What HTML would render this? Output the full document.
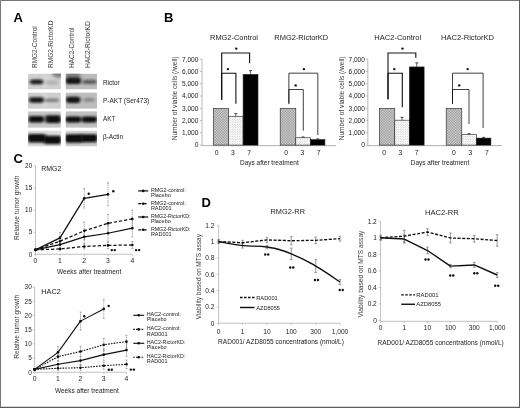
<!DOCTYPE html>
<html><head><meta charset="utf-8"><title>Figure</title>
<style>
html,body{margin:0;padding:0;background:#fff;}
body{width:520px;height:408px;overflow:hidden;font-family:"Liberation Sans", sans-serif;}
svg{display:block;font-family:"Liberation Sans", sans-serif;}
</style></head>
<body>
<svg width="520" height="408" viewBox="0 0 520 408">
<defs>
<filter id="bl" x="-30%" y="-80%" width="160%" height="260%"><feGaussianBlur stdDeviation="1.5 1.15"/></filter>
<filter id="soft" x="0" y="0" width="520" height="408" filterUnits="userSpaceOnUse"><feGaussianBlur stdDeviation="0.36"/></filter>
<filter id="bl3" x="-50%" y="-100%" width="200%" height="300%"><feGaussianBlur stdDeviation="1.1"/></filter>
<filter id="bl2" x="-50%" y="-100%" width="200%" height="300%"><feGaussianBlur stdDeviation="1.6"/></filter>
<pattern id="hatch" width="2.6" height="2.6" patternUnits="userSpaceOnUse"><rect width="2.6" height="2.6" fill="#dedede"/><rect width="1.3" height="1.3" fill="#8c8c8c"/><rect x="1.3" y="1.3" width="1.3" height="1.3" fill="#8c8c8c"/></pattern>
<pattern id="dots" width="2.4" height="2.4" patternUnits="userSpaceOnUse"><rect width="2.4" height="2.4" fill="#fdfdfd"/><circle cx="0.6" cy="0.6" r="0.38" fill="#8a8a8a"/><circle cx="1.8" cy="1.8" r="0.38" fill="#8a8a8a"/></pattern>
</defs>
<rect x="0" y="0" width="520" height="408" fill="#fff"/>
<g filter="url(#soft)">
<text x="13.60" y="22.40" font-size="13" text-anchor="start" font-weight="bold" fill="#000">A</text>
<text x="164.00" y="22.40" font-size="13" text-anchor="start" font-weight="bold" fill="#000">B</text>
<text x="13.60" y="163.40" font-size="13" text-anchor="start" font-weight="bold" fill="#000">C</text>
<text x="201.60" y="207.20" font-size="13" text-anchor="start" font-weight="bold" fill="#000">D</text>
<text x="36.60" y="68.00" font-size="6.48" text-anchor="start" font-weight="normal" fill="#3c3c3c" transform="rotate(-90 36.6 68)" textLength="41.75" lengthAdjust="spacingAndGlyphs">RMG2-Control</text>
<text x="53.20" y="68.00" font-size="6.58" text-anchor="start" font-weight="normal" fill="#3c3c3c" transform="rotate(-90 53.2 68)" textLength="47.5" lengthAdjust="spacingAndGlyphs">RMG2-RictorKD</text>
<text x="74.00" y="68.00" font-size="6.51" text-anchor="start" font-weight="normal" fill="#3c3c3c" transform="rotate(-90 74.0 68)" textLength="40.5" lengthAdjust="spacingAndGlyphs">HAC2-Control</text>
<text x="89.50" y="68.00" font-size="6.68" text-anchor="start" font-weight="normal" fill="#3c3c3c" transform="rotate(-90 89.5 68)" textLength="46.75" lengthAdjust="spacingAndGlyphs">HAC2-RictorKD</text>
<g clip-path="url(#c00)"><clipPath id="c00"><rect x="28" y="73.6" width="32.90" height="15.90"/></clipPath>
<rect x="28" y="73.6" width="32.90" height="15.90" fill="#d0d0d0"/>
<rect x="43" y="73.6" width="4" height="15.90" fill="#e4e4e4" opacity="0.45" filter="url(#bl2)"/>
<ellipse cx="59.5" cy="73.6" rx="7.5" ry="4.2" fill="#3a3a3a" opacity="0.55" filter="url(#bl2)"/>
<rect x="29.8" y="79.45" width="13.50" height="4.9" rx="2.40" fill="#0c0c0c" opacity="0.9" filter="url(#bl)"/>
<rect x="45.5" y="80.80" width="12.50" height="3.6" rx="1.80" fill="#0c0c0c" opacity="0.17" filter="url(#bl)"/>
</g>
<g clip-path="url(#c01)"><clipPath id="c01"><rect x="65.5" y="73.6" width="31.50" height="15.90"/></clipPath>
<rect x="65.5" y="73.6" width="31.50" height="15.90" fill="#bcbcbc"/>
<rect x="66" y="72.6" width="14" height="5" fill="#333" opacity="0.5" filter="url(#bl2)"/>
<rect x="65.6" y="77.50" width="15.40" height="6.6" rx="2.40" fill="#0c0c0c" opacity="0.97" filter="url(#bl)"/>
<rect x="82.5" y="79.70" width="14.30" height="4.4" rx="2.20" fill="#0c0c0c" opacity="0.55" filter="url(#bl)"/>
</g>
<text x="103.00" y="84.50" font-size="6.4" text-anchor="start" font-weight="normal" fill="#1c1c1c" textLength="16.7" lengthAdjust="spacingAndGlyphs">Rictor</text>
<g clip-path="url(#c10)"><clipPath id="c10"><rect x="28" y="92.4" width="32.90" height="16.40"/></clipPath>
<rect x="28" y="92.4" width="32.90" height="16.40" fill="#cecece"/>
<rect x="43" y="92.4" width="4" height="16.40" fill="#e4e4e4" opacity="0.45" filter="url(#bl2)"/>
<rect x="29.0" y="97.30" width="15.00" height="5.4" rx="2.40" fill="#0c0c0c" opacity="0.93" filter="url(#bl)"/>
<rect x="45" y="98.60" width="14.00" height="3.4" rx="1.70" fill="#0c0c0c" opacity="0.4" filter="url(#bl)"/>
</g>
<g clip-path="url(#c11)"><clipPath id="c11"><rect x="65.5" y="92.4" width="31.50" height="16.40"/></clipPath>
<rect x="65.5" y="92.4" width="31.50" height="16.40" fill="#bdbdbd"/>
<rect x="66" y="96.70" width="14.30" height="6.2" rx="2.40" fill="#0c0c0c" opacity="0.97" filter="url(#bl)"/>
<rect x="83.4" y="97.90" width="11.10" height="3.8" rx="1.90" fill="#0c0c0c" opacity="0.3" filter="url(#bl)"/>
</g>
<text x="103.00" y="103.30" font-size="6.51" text-anchor="start" font-weight="normal" fill="#1c1c1c" textLength="46.2" lengthAdjust="spacingAndGlyphs">P-AKT (Ser473)</text>
<g clip-path="url(#c20)"><clipPath id="c20"><rect x="28" y="111.2" width="32.90" height="16.60"/></clipPath>
<rect x="28" y="111.2" width="32.90" height="16.60" fill="#c6c6c6"/>
<rect x="28.4" y="116.10" width="15.80" height="6.4" rx="2.40" fill="#0c0c0c" opacity="0.98" filter="url(#bl)"/>
<rect x="45.2" y="115.30" width="15.80" height="7.8" rx="2.40" fill="#0c0c0c" opacity="0.98" filter="url(#bl)"/>
</g>
<g clip-path="url(#c21)"><clipPath id="c21"><rect x="65.5" y="111.2" width="31.50" height="16.60"/></clipPath>
<rect x="65.5" y="111.2" width="31.50" height="16.60" fill="#c0c0c0"/>
<rect x="65.2" y="116.40" width="16.20" height="6.0" rx="2.40" fill="#0c0c0c" opacity="0.98" filter="url(#bl)"/>
<rect x="81.4" y="116.60" width="15.80" height="5.8" rx="2.40" fill="#0c0c0c" opacity="0.98" filter="url(#bl)"/>
</g>
<text x="103.00" y="120.70" font-size="6.38" text-anchor="start" font-weight="normal" fill="#1c1c1c" textLength="12.4" lengthAdjust="spacingAndGlyphs">AKT</text>
<g clip-path="url(#c30)"><clipPath id="c30"><rect x="28" y="130.5" width="32.90" height="16.10"/></clipPath>
<rect x="28" y="130.5" width="32.90" height="16.10" fill="#d6d6d6"/>
<rect x="28" y="130.5" width="32.90" height="3" fill="#e6e6e6" opacity="0.6" filter="url(#bl2)"/>
<rect x="27.5" y="134.10" width="18.50" height="8.4" rx="2.40" fill="#0c0c0c" opacity="1.0" filter="url(#bl)"/>
<rect x="43.5" y="135.70" width="18.00" height="8.2" rx="2.40" fill="#0c0c0c" opacity="1.0" filter="url(#bl)"/>
</g>
<g clip-path="url(#c31)"><clipPath id="c31"><rect x="65.5" y="130.5" width="31.50" height="16.10"/></clipPath>
<rect x="65.5" y="130.5" width="31.50" height="16.10" fill="#cacaca"/>
<rect x="65.5" y="130.5" width="31.50" height="3" fill="#e6e6e6" opacity="0.6" filter="url(#bl2)"/>
<rect x="65.0" y="134.30" width="18.00" height="8.4" rx="2.40" fill="#0c0c0c" opacity="1.0" filter="url(#bl)"/>
<rect x="80.3" y="134.30" width="17.20" height="8.0" rx="2.40" fill="#0c0c0c" opacity="1.0" filter="url(#bl)"/>
</g>
<text x="103.00" y="138.70" font-size="6.42" text-anchor="start" font-weight="normal" fill="#1c1c1c" textLength="20.1" lengthAdjust="spacingAndGlyphs">β-Actin</text>
<line x1="202.00" y1="58.80" x2="202.00" y2="145.10" stroke="#a8a8a8" stroke-width="0.8" stroke-linecap="butt"/>
<line x1="201.60" y1="145.65" x2="336.20" y2="145.65" stroke="#9a9a9a" stroke-width="0.8" stroke-linecap="butt"/>
<line x1="200.00" y1="145.10" x2="202.00" y2="145.10" stroke="#a8a8a8" stroke-width="0.7" stroke-linecap="butt"/>
<text x="194.70" y="147.40" font-size="6.65" text-anchor="start" font-weight="normal" fill="#1c1c1c" textLength="3.7" lengthAdjust="spacingAndGlyphs">0</text>
<line x1="200.00" y1="132.83" x2="202.00" y2="132.83" stroke="#a8a8a8" stroke-width="0.7" stroke-linecap="butt"/>
<text x="182.00" y="135.13" font-size="6.55" text-anchor="start" font-weight="normal" fill="#1c1c1c" textLength="16.4" lengthAdjust="spacingAndGlyphs">1,000</text>
<line x1="200.00" y1="120.56" x2="202.00" y2="120.56" stroke="#a8a8a8" stroke-width="0.7" stroke-linecap="butt"/>
<text x="182.00" y="122.86" font-size="6.55" text-anchor="start" font-weight="normal" fill="#1c1c1c" textLength="16.4" lengthAdjust="spacingAndGlyphs">2,000</text>
<line x1="200.00" y1="108.29" x2="202.00" y2="108.29" stroke="#a8a8a8" stroke-width="0.7" stroke-linecap="butt"/>
<text x="182.00" y="110.59" font-size="6.55" text-anchor="start" font-weight="normal" fill="#1c1c1c" textLength="16.4" lengthAdjust="spacingAndGlyphs">3,000</text>
<line x1="200.00" y1="96.02" x2="202.00" y2="96.02" stroke="#a8a8a8" stroke-width="0.7" stroke-linecap="butt"/>
<text x="182.00" y="98.32" font-size="6.55" text-anchor="start" font-weight="normal" fill="#1c1c1c" textLength="16.4" lengthAdjust="spacingAndGlyphs">4,000</text>
<line x1="200.00" y1="83.75" x2="202.00" y2="83.75" stroke="#a8a8a8" stroke-width="0.7" stroke-linecap="butt"/>
<text x="182.00" y="86.05" font-size="6.55" text-anchor="start" font-weight="normal" fill="#1c1c1c" textLength="16.4" lengthAdjust="spacingAndGlyphs">5,000</text>
<line x1="200.00" y1="71.48" x2="202.00" y2="71.48" stroke="#a8a8a8" stroke-width="0.7" stroke-linecap="butt"/>
<text x="182.00" y="73.78" font-size="6.55" text-anchor="start" font-weight="normal" fill="#1c1c1c" textLength="16.4" lengthAdjust="spacingAndGlyphs">6,000</text>
<line x1="200.00" y1="59.21" x2="202.00" y2="59.21" stroke="#a8a8a8" stroke-width="0.7" stroke-linecap="butt"/>
<text x="182.00" y="61.51" font-size="6.55" text-anchor="start" font-weight="normal" fill="#1c1c1c" textLength="16.4" lengthAdjust="spacingAndGlyphs">7,000</text>
<text x="135.30" y="98.40" font-size="6.56" text-anchor="start" font-weight="normal" fill="#3c3c3c" transform="rotate(-90 177.2 98.4)" textLength="83.8" lengthAdjust="spacingAndGlyphs">Number of viable cells (/well)</text>
<text x="210.00" y="40.10" font-size="7.45" text-anchor="start" font-weight="normal" fill="#1c1c1c" textLength="48" lengthAdjust="spacingAndGlyphs">RMG2-Control</text>
<rect x="213.3" y="108.29" width="15.20" height="36.81" fill="url(#hatch)" stroke="#222" stroke-width="0.6"/>
<rect x="228.5" y="116.27" width="14.60" height="28.83" fill="url(#dots)" stroke="#222" stroke-width="0.6"/>
<line x1="235.80" y1="116.27" x2="235.80" y2="113.57" stroke="#222" stroke-width="0.7" stroke-linecap="butt"/>
<line x1="234.30" y1="113.57" x2="237.30" y2="113.57" stroke="#222" stroke-width="0.8" stroke-linecap="butt"/>
<rect x="243.1" y="74.42" width="14.90" height="70.68" fill="#000" stroke="#222" stroke-width="0.6"/>
<line x1="250.55" y1="74.42" x2="250.55" y2="70.62" stroke="#222" stroke-width="0.7" stroke-linecap="butt"/>
<line x1="249.05" y1="70.62" x2="252.05" y2="70.62" stroke="#222" stroke-width="0.8" stroke-linecap="butt"/>
<text x="216.75" y="155.20" font-size="6.8" text-anchor="middle" font-weight="normal" fill="#1c1c1c">0</text>
<text x="233.00" y="155.20" font-size="6.8" text-anchor="middle" font-weight="normal" fill="#1c1c1c">3</text>
<text x="249.25" y="155.20" font-size="6.8" text-anchor="middle" font-weight="normal" fill="#1c1c1c">7</text>
<path d="M221.7 99.7 V53.0 H249.6 V63.2" fill="none" stroke="#111" stroke-width="1.1"/>
<circle cx="236.2" cy="48.6" r="1.2" fill="#111"/>
<path d="M221.7 99.7 V73.2 H235.9 V103.8" fill="none" stroke="#111" stroke-width="1.1"/>
<circle cx="227.9" cy="69.1" r="1.2" fill="#111"/>
<text x="274.25" y="40.10" font-size="7.48" text-anchor="start" font-weight="normal" fill="#1c1c1c" textLength="54" lengthAdjust="spacingAndGlyphs">RMG2-RictorKD</text>
<rect x="280.2" y="108.29" width="15.60" height="36.81" fill="url(#hatch)" stroke="#222" stroke-width="0.6"/>
<rect x="295.8" y="137.74" width="14.60" height="7.36" fill="url(#dots)" stroke="#222" stroke-width="0.6"/>
<line x1="303.10" y1="137.74" x2="303.10" y2="136.94" stroke="#222" stroke-width="0.7" stroke-linecap="butt"/>
<line x1="301.60" y1="136.94" x2="304.60" y2="136.94" stroke="#222" stroke-width="0.8" stroke-linecap="butt"/>
<rect x="310.4" y="139.64" width="14.50" height="5.46" fill="#000" stroke="#222" stroke-width="0.6"/>
<line x1="317.65" y1="139.64" x2="317.65" y2="138.90" stroke="#222" stroke-width="0.7" stroke-linecap="butt"/>
<line x1="316.15" y1="138.90" x2="319.15" y2="138.90" stroke="#222" stroke-width="0.8" stroke-linecap="butt"/>
<text x="286.25" y="155.20" font-size="6.8" text-anchor="middle" font-weight="normal" fill="#1c1c1c">0</text>
<text x="302.50" y="155.20" font-size="6.8" text-anchor="middle" font-weight="normal" fill="#1c1c1c">3</text>
<text x="318.75" y="155.20" font-size="6.8" text-anchor="middle" font-weight="normal" fill="#1c1c1c">7</text>
<path d="M288.85 103.7 V73.2 H317.8 V135" fill="none" stroke="#111" stroke-width="0.8"/>
<circle cx="303.9" cy="69.1" r="1.2" fill="#111"/>
<path d="M288.85 103.7 V89.5 H303.3 V130.7" fill="none" stroke="#111" stroke-width="0.8"/>
<circle cx="295.65" cy="85.4" r="1.2" fill="#111"/>
<text x="240.00" y="164.90" font-size="6.49" text-anchor="start" font-weight="normal" fill="#1c1c1c" textLength="58.75" lengthAdjust="spacingAndGlyphs">Days after treatment</text>
<line x1="367.80" y1="58.80" x2="367.80" y2="145.10" stroke="#a8a8a8" stroke-width="0.8" stroke-linecap="butt"/>
<line x1="367.40" y1="145.65" x2="502.00" y2="145.65" stroke="#9a9a9a" stroke-width="0.8" stroke-linecap="butt"/>
<line x1="365.80" y1="145.10" x2="367.80" y2="145.10" stroke="#a8a8a8" stroke-width="0.7" stroke-linecap="butt"/>
<text x="361.20" y="147.40" font-size="6.65" text-anchor="start" font-weight="normal" fill="#1c1c1c" textLength="3.7" lengthAdjust="spacingAndGlyphs">0</text>
<line x1="365.80" y1="132.83" x2="367.80" y2="132.83" stroke="#a8a8a8" stroke-width="0.7" stroke-linecap="butt"/>
<text x="348.50" y="135.13" font-size="6.55" text-anchor="start" font-weight="normal" fill="#1c1c1c" textLength="16.4" lengthAdjust="spacingAndGlyphs">1,000</text>
<line x1="365.80" y1="120.56" x2="367.80" y2="120.56" stroke="#a8a8a8" stroke-width="0.7" stroke-linecap="butt"/>
<text x="348.50" y="122.86" font-size="6.55" text-anchor="start" font-weight="normal" fill="#1c1c1c" textLength="16.4" lengthAdjust="spacingAndGlyphs">2,000</text>
<line x1="365.80" y1="108.29" x2="367.80" y2="108.29" stroke="#a8a8a8" stroke-width="0.7" stroke-linecap="butt"/>
<text x="348.50" y="110.59" font-size="6.55" text-anchor="start" font-weight="normal" fill="#1c1c1c" textLength="16.4" lengthAdjust="spacingAndGlyphs">3,000</text>
<line x1="365.80" y1="96.02" x2="367.80" y2="96.02" stroke="#a8a8a8" stroke-width="0.7" stroke-linecap="butt"/>
<text x="348.50" y="98.32" font-size="6.55" text-anchor="start" font-weight="normal" fill="#1c1c1c" textLength="16.4" lengthAdjust="spacingAndGlyphs">4,000</text>
<line x1="365.80" y1="83.75" x2="367.80" y2="83.75" stroke="#a8a8a8" stroke-width="0.7" stroke-linecap="butt"/>
<text x="348.50" y="86.05" font-size="6.55" text-anchor="start" font-weight="normal" fill="#1c1c1c" textLength="16.4" lengthAdjust="spacingAndGlyphs">5,000</text>
<line x1="365.80" y1="71.48" x2="367.80" y2="71.48" stroke="#a8a8a8" stroke-width="0.7" stroke-linecap="butt"/>
<text x="348.50" y="73.78" font-size="6.55" text-anchor="start" font-weight="normal" fill="#1c1c1c" textLength="16.4" lengthAdjust="spacingAndGlyphs">6,000</text>
<line x1="365.80" y1="59.21" x2="367.80" y2="59.21" stroke="#a8a8a8" stroke-width="0.7" stroke-linecap="butt"/>
<text x="348.50" y="61.51" font-size="6.55" text-anchor="start" font-weight="normal" fill="#1c1c1c" textLength="16.4" lengthAdjust="spacingAndGlyphs">7,000</text>
<text x="302.60" y="98.40" font-size="6.56" text-anchor="start" font-weight="normal" fill="#3c3c3c" transform="rotate(-90 344.5 98.4)" textLength="83.8" lengthAdjust="spacingAndGlyphs">Number of viable cells (/well)</text>
<text x="374.25" y="40.10" font-size="7.55" text-anchor="start" font-weight="normal" fill="#1c1c1c" textLength="47" lengthAdjust="spacingAndGlyphs">HAC2-Control</text>
<rect x="379.3" y="108.29" width="15.45" height="36.81" fill="url(#hatch)" stroke="#222" stroke-width="0.6"/>
<rect x="394.75" y="120.19" width="14.65" height="24.91" fill="url(#dots)" stroke="#222" stroke-width="0.6"/>
<line x1="402.07" y1="120.19" x2="402.07" y2="117.39" stroke="#222" stroke-width="0.7" stroke-linecap="butt"/>
<line x1="400.57" y1="117.39" x2="403.57" y2="117.39" stroke="#222" stroke-width="0.8" stroke-linecap="butt"/>
<rect x="409.4" y="66.94" width="14.70" height="78.16" fill="#000" stroke="#222" stroke-width="0.6"/>
<line x1="416.75" y1="66.94" x2="416.75" y2="62.83" stroke="#222" stroke-width="0.7" stroke-linecap="butt"/>
<line x1="415.25" y1="62.83" x2="418.25" y2="62.83" stroke="#222" stroke-width="0.8" stroke-linecap="butt"/>
<text x="384.25" y="155.20" font-size="6.8" text-anchor="middle" font-weight="normal" fill="#1c1c1c">0</text>
<text x="400.50" y="155.20" font-size="6.8" text-anchor="middle" font-weight="normal" fill="#1c1c1c">3</text>
<text x="416.75" y="155.20" font-size="6.8" text-anchor="middle" font-weight="normal" fill="#1c1c1c">7</text>
<path d="M388 99.3 V53.0 H415.8 V57.7" fill="none" stroke="#111" stroke-width="1.1"/>
<circle cx="402.5" cy="48.6" r="1.2" fill="#111"/>
<path d="M388 99.3 V73.2 H402.3 V107.2" fill="none" stroke="#111" stroke-width="1.1"/>
<circle cx="394.3" cy="69.1" r="1.2" fill="#111"/>
<text x="441.05" y="40.10" font-size="7.56" text-anchor="start" font-weight="normal" fill="#1c1c1c" textLength="52.9" lengthAdjust="spacingAndGlyphs">HAC2-RictorKD</text>
<rect x="446.2" y="108.29" width="15.60" height="36.81" fill="url(#hatch)" stroke="#222" stroke-width="0.6"/>
<rect x="461.8" y="134.55" width="14.60" height="10.55" fill="url(#dots)" stroke="#222" stroke-width="0.6"/>
<line x1="469.10" y1="134.55" x2="469.10" y2="133.69" stroke="#222" stroke-width="0.7" stroke-linecap="butt"/>
<line x1="467.60" y1="133.69" x2="470.60" y2="133.69" stroke="#222" stroke-width="0.8" stroke-linecap="butt"/>
<rect x="476.4" y="138.11" width="14.50" height="6.99" fill="#000" stroke="#222" stroke-width="0.6"/>
<line x1="483.65" y1="138.11" x2="483.65" y2="137.37" stroke="#222" stroke-width="0.7" stroke-linecap="butt"/>
<line x1="482.15" y1="137.37" x2="485.15" y2="137.37" stroke="#222" stroke-width="0.8" stroke-linecap="butt"/>
<text x="454.00" y="155.20" font-size="6.8" text-anchor="middle" font-weight="normal" fill="#1c1c1c">0</text>
<text x="470.30" y="155.20" font-size="6.8" text-anchor="middle" font-weight="normal" fill="#1c1c1c">3</text>
<text x="486.80" y="155.20" font-size="6.8" text-anchor="middle" font-weight="normal" fill="#1c1c1c">7</text>
<path d="M452.5 103.7 V73.2 H483.1 V128.1" fill="none" stroke="#111" stroke-width="0.8"/>
<circle cx="467.6" cy="69.1" r="1.2" fill="#111"/>
<path d="M452.5 103.7 V89.5 H469.0 V124" fill="none" stroke="#111" stroke-width="0.8"/>
<circle cx="459.2" cy="85.4" r="1.2" fill="#111"/>
<text x="410.75" y="164.90" font-size="6.46" text-anchor="start" font-weight="normal" fill="#1c1c1c" textLength="58.5" lengthAdjust="spacingAndGlyphs">Days after treatment</text>
<line x1="35.50" y1="165.85" x2="35.50" y2="254.25" stroke="#a8a8a8" stroke-width="0.7" stroke-linecap="butt"/>
<line x1="35.50" y1="254.25" x2="132.30" y2="254.25" stroke="#a8a8a8" stroke-width="0.7" stroke-linecap="butt"/>
<line x1="33.50" y1="254.25" x2="35.50" y2="254.25" stroke="#a8a8a8" stroke-width="0.6" stroke-linecap="butt"/>
<text x="32.20" y="256.55" font-size="6.4" text-anchor="end" font-weight="normal" fill="#1c1c1c">0</text>
<line x1="33.50" y1="232.15" x2="35.50" y2="232.15" stroke="#a8a8a8" stroke-width="0.6" stroke-linecap="butt"/>
<text x="32.20" y="234.45" font-size="6.4" text-anchor="end" font-weight="normal" fill="#1c1c1c">5</text>
<line x1="33.50" y1="210.05" x2="35.50" y2="210.05" stroke="#a8a8a8" stroke-width="0.6" stroke-linecap="butt"/>
<text x="32.20" y="212.35" font-size="6.4" text-anchor="end" font-weight="normal" fill="#1c1c1c">10</text>
<line x1="33.50" y1="187.95" x2="35.50" y2="187.95" stroke="#a8a8a8" stroke-width="0.6" stroke-linecap="butt"/>
<text x="32.20" y="190.25" font-size="6.4" text-anchor="end" font-weight="normal" fill="#1c1c1c">15</text>
<line x1="33.50" y1="165.85" x2="35.50" y2="165.85" stroke="#a8a8a8" stroke-width="0.6" stroke-linecap="butt"/>
<text x="32.20" y="168.15" font-size="6.4" text-anchor="end" font-weight="normal" fill="#1c1c1c">20</text>
<line x1="35.50" y1="254.25" x2="35.50" y2="256.25" stroke="#a8a8a8" stroke-width="0.6" stroke-linecap="butt"/>
<text x="35.50" y="262.90" font-size="6.8" text-anchor="middle" font-weight="normal" fill="#1c1c1c">0</text>
<line x1="60.00" y1="254.25" x2="60.00" y2="256.25" stroke="#a8a8a8" stroke-width="0.6" stroke-linecap="butt"/>
<text x="60.00" y="262.90" font-size="6.8" text-anchor="middle" font-weight="normal" fill="#1c1c1c">1</text>
<line x1="84.25" y1="254.25" x2="84.25" y2="256.25" stroke="#a8a8a8" stroke-width="0.6" stroke-linecap="butt"/>
<text x="84.25" y="262.90" font-size="6.8" text-anchor="middle" font-weight="normal" fill="#1c1c1c">2</text>
<line x1="108.00" y1="254.25" x2="108.00" y2="256.25" stroke="#a8a8a8" stroke-width="0.6" stroke-linecap="butt"/>
<text x="108.00" y="262.90" font-size="6.8" text-anchor="middle" font-weight="normal" fill="#1c1c1c">3</text>
<line x1="132.30" y1="254.25" x2="132.30" y2="256.25" stroke="#a8a8a8" stroke-width="0.6" stroke-linecap="butt"/>
<text x="132.30" y="262.90" font-size="6.8" text-anchor="middle" font-weight="normal" fill="#1c1c1c">4</text>
<text x="41.25" y="171.25" font-size="6.92" text-anchor="start" font-weight="normal" fill="#1c1c1c" textLength="20" lengthAdjust="spacingAndGlyphs">RMG2</text>
<text x="57.00" y="273.55" font-size="6.54" text-anchor="start" font-weight="normal" fill="#1c1c1c" textLength="64.25" lengthAdjust="spacingAndGlyphs">Weeks after treatment</text>
<text x="-13.45" y="207.70" font-size="6.63" text-anchor="start" font-weight="normal" fill="#3c3c3c" transform="rotate(-90 18.8 207.7)" textLength="64.5" lengthAdjust="spacingAndGlyphs">Relative tumor growth</text>
<line x1="60.00" y1="232.59" x2="60.00" y2="243.20" stroke="#6a6a6a" stroke-width="0.6" stroke-dasharray="1.2 0.7" stroke-linecap="butt"/>
<line x1="59.00" y1="232.59" x2="61.00" y2="232.59" stroke="#6a6a6a" stroke-width="0.5" stroke-linecap="butt"/>
<line x1="59.00" y1="243.20" x2="61.00" y2="243.20" stroke="#6a6a6a" stroke-width="0.5" stroke-linecap="butt"/>
<line x1="84.25" y1="188.61" x2="84.25" y2="208.06" stroke="#6a6a6a" stroke-width="0.6" stroke-dasharray="1.2 0.7" stroke-linecap="butt"/>
<line x1="83.25" y1="188.61" x2="85.25" y2="188.61" stroke="#6a6a6a" stroke-width="0.5" stroke-linecap="butt"/>
<line x1="83.25" y1="208.06" x2="85.25" y2="208.06" stroke="#6a6a6a" stroke-width="0.5" stroke-linecap="butt"/>
<line x1="108.00" y1="182.87" x2="108.00" y2="205.85" stroke="#6a6a6a" stroke-width="0.6" stroke-dasharray="1.2 0.7" stroke-linecap="butt"/>
<line x1="107.00" y1="182.87" x2="109.00" y2="182.87" stroke="#6a6a6a" stroke-width="0.5" stroke-linecap="butt"/>
<line x1="107.00" y1="205.85" x2="109.00" y2="205.85" stroke="#6a6a6a" stroke-width="0.5" stroke-linecap="butt"/>
<line x1="60.00" y1="236.79" x2="60.00" y2="245.63" stroke="#6a6a6a" stroke-width="0.6" stroke-dasharray="1.2 0.7" stroke-linecap="butt"/>
<line x1="59.00" y1="236.79" x2="61.00" y2="236.79" stroke="#6a6a6a" stroke-width="0.5" stroke-linecap="butt"/>
<line x1="59.00" y1="245.63" x2="61.00" y2="245.63" stroke="#6a6a6a" stroke-width="0.5" stroke-linecap="butt"/>
<line x1="84.25" y1="221.98" x2="84.25" y2="239.66" stroke="#6a6a6a" stroke-width="0.6" stroke-dasharray="1.2 0.7" stroke-linecap="butt"/>
<line x1="83.25" y1="221.98" x2="85.25" y2="221.98" stroke="#6a6a6a" stroke-width="0.5" stroke-linecap="butt"/>
<line x1="83.25" y1="239.66" x2="85.25" y2="239.66" stroke="#6a6a6a" stroke-width="0.5" stroke-linecap="butt"/>
<line x1="108.00" y1="214.47" x2="108.00" y2="232.15" stroke="#6a6a6a" stroke-width="0.6" stroke-dasharray="1.2 0.7" stroke-linecap="butt"/>
<line x1="107.00" y1="214.47" x2="109.00" y2="214.47" stroke="#6a6a6a" stroke-width="0.5" stroke-linecap="butt"/>
<line x1="107.00" y1="232.15" x2="109.00" y2="232.15" stroke="#6a6a6a" stroke-width="0.5" stroke-linecap="butt"/>
<line x1="132.30" y1="210.05" x2="132.30" y2="227.73" stroke="#6a6a6a" stroke-width="0.6" stroke-dasharray="1.2 0.7" stroke-linecap="butt"/>
<line x1="131.30" y1="210.05" x2="133.30" y2="210.05" stroke="#6a6a6a" stroke-width="0.5" stroke-linecap="butt"/>
<line x1="131.30" y1="227.73" x2="133.30" y2="227.73" stroke="#6a6a6a" stroke-width="0.5" stroke-linecap="butt"/>
<line x1="60.00" y1="240.99" x2="60.00" y2="248.06" stroke="#6a6a6a" stroke-width="0.6" stroke-dasharray="1.2 0.7" stroke-linecap="butt"/>
<line x1="59.00" y1="240.99" x2="61.00" y2="240.99" stroke="#6a6a6a" stroke-width="0.5" stroke-linecap="butt"/>
<line x1="59.00" y1="248.06" x2="61.00" y2="248.06" stroke="#6a6a6a" stroke-width="0.5" stroke-linecap="butt"/>
<line x1="84.25" y1="230.16" x2="84.25" y2="243.42" stroke="#6a6a6a" stroke-width="0.6" stroke-dasharray="1.2 0.7" stroke-linecap="butt"/>
<line x1="83.25" y1="230.16" x2="85.25" y2="230.16" stroke="#6a6a6a" stroke-width="0.5" stroke-linecap="butt"/>
<line x1="83.25" y1="243.42" x2="85.25" y2="243.42" stroke="#6a6a6a" stroke-width="0.5" stroke-linecap="butt"/>
<line x1="108.00" y1="225.30" x2="108.00" y2="241.21" stroke="#6a6a6a" stroke-width="0.6" stroke-dasharray="1.2 0.7" stroke-linecap="butt"/>
<line x1="107.00" y1="225.30" x2="109.00" y2="225.30" stroke="#6a6a6a" stroke-width="0.5" stroke-linecap="butt"/>
<line x1="107.00" y1="241.21" x2="109.00" y2="241.21" stroke="#6a6a6a" stroke-width="0.5" stroke-linecap="butt"/>
<line x1="132.30" y1="219.33" x2="132.30" y2="237.01" stroke="#6a6a6a" stroke-width="0.6" stroke-dasharray="1.2 0.7" stroke-linecap="butt"/>
<line x1="131.30" y1="219.33" x2="133.30" y2="219.33" stroke="#6a6a6a" stroke-width="0.5" stroke-linecap="butt"/>
<line x1="131.30" y1="237.01" x2="133.30" y2="237.01" stroke="#6a6a6a" stroke-width="0.5" stroke-linecap="butt"/>
<line x1="60.00" y1="247.18" x2="60.00" y2="250.71" stroke="#6a6a6a" stroke-width="0.6" stroke-dasharray="1.2 0.7" stroke-linecap="butt"/>
<line x1="59.00" y1="247.18" x2="61.00" y2="247.18" stroke="#6a6a6a" stroke-width="0.5" stroke-linecap="butt"/>
<line x1="59.00" y1="250.71" x2="61.00" y2="250.71" stroke="#6a6a6a" stroke-width="0.5" stroke-linecap="butt"/>
<line x1="84.25" y1="243.86" x2="84.25" y2="249.17" stroke="#6a6a6a" stroke-width="0.6" stroke-dasharray="1.2 0.7" stroke-linecap="butt"/>
<line x1="83.25" y1="243.86" x2="85.25" y2="243.86" stroke="#6a6a6a" stroke-width="0.5" stroke-linecap="butt"/>
<line x1="83.25" y1="249.17" x2="85.25" y2="249.17" stroke="#6a6a6a" stroke-width="0.5" stroke-linecap="butt"/>
<line x1="108.00" y1="242.32" x2="108.00" y2="248.50" stroke="#6a6a6a" stroke-width="0.6" stroke-dasharray="1.2 0.7" stroke-linecap="butt"/>
<line x1="107.00" y1="242.32" x2="109.00" y2="242.32" stroke="#6a6a6a" stroke-width="0.5" stroke-linecap="butt"/>
<line x1="107.00" y1="248.50" x2="109.00" y2="248.50" stroke="#6a6a6a" stroke-width="0.5" stroke-linecap="butt"/>
<line x1="132.30" y1="241.43" x2="132.30" y2="248.50" stroke="#6a6a6a" stroke-width="0.6" stroke-dasharray="1.2 0.7" stroke-linecap="butt"/>
<line x1="131.30" y1="241.43" x2="133.30" y2="241.43" stroke="#6a6a6a" stroke-width="0.5" stroke-linecap="butt"/>
<line x1="131.30" y1="248.50" x2="133.30" y2="248.50" stroke="#6a6a6a" stroke-width="0.5" stroke-linecap="butt"/>
<polyline points="35.50,249.83 60.00,237.90 84.25,198.34 108.00,194.36" fill="none" stroke="#111" stroke-width="1.25" stroke-linejoin="round"/>
<circle cx="35.50" cy="249.83" r="1.3" fill="#111"/>
<circle cx="60.00" cy="237.90" r="1.3" fill="#111"/>
<circle cx="84.25" cy="198.34" r="1.3" fill="#111"/>
<circle cx="108.00" cy="194.36" r="1.3" fill="#111"/>
<polyline points="35.50,249.83 60.00,241.21 84.25,230.82 108.00,223.31 132.30,218.89" fill="none" stroke="#111" stroke-width="1.25" stroke-dasharray="3.2 2" stroke-linejoin="round"/>
<circle cx="35.50" cy="249.83" r="1.3" fill="#111"/>
<circle cx="60.00" cy="241.21" r="1.3" fill="#111"/>
<circle cx="84.25" cy="230.82" r="1.3" fill="#111"/>
<circle cx="108.00" cy="223.31" r="1.3" fill="#111"/>
<circle cx="132.30" cy="218.89" r="1.3" fill="#111"/>
<polyline points="35.50,249.83 60.00,244.53 84.25,236.79 108.00,233.25 132.30,228.17" fill="none" stroke="#111" stroke-width="1.25" stroke-linejoin="round"/>
<circle cx="35.50" cy="249.83" r="1.3" fill="#111"/>
<circle cx="60.00" cy="244.53" r="1.3" fill="#111"/>
<circle cx="84.25" cy="236.79" r="1.3" fill="#111"/>
<circle cx="108.00" cy="233.25" r="1.3" fill="#111"/>
<circle cx="132.30" cy="228.17" r="1.3" fill="#111"/>
<polyline points="35.50,249.83 60.00,248.95 84.25,246.51 108.00,245.41 132.30,244.97" fill="none" stroke="#111" stroke-width="1.25" stroke-dasharray="3.2 2" stroke-linejoin="round"/>
<circle cx="35.50" cy="249.83" r="1.3" fill="#111"/>
<circle cx="60.00" cy="248.95" r="1.3" fill="#111"/>
<circle cx="84.25" cy="246.51" r="1.3" fill="#111"/>
<circle cx="108.00" cy="245.41" r="1.3" fill="#111"/>
<circle cx="132.30" cy="244.97" r="1.3" fill="#111"/>
<circle cx="88.75" cy="193.75" r="1.2" fill="#111"/>
<circle cx="113.3" cy="191.3" r="1.2" fill="#111"/>
<circle cx="111.8" cy="250.1" r="1.2" fill="#111"/><circle cx="114.8" cy="250.1" r="1.2" fill="#111"/>
<circle cx="136.1" cy="250.1" r="1.2" fill="#111"/><circle cx="139.1" cy="250.1" r="1.2" fill="#111"/>
<line x1="138.20" y1="190.90" x2="148.20" y2="190.90" stroke="#111" stroke-width="1.25" stroke-linecap="butt"/>
<circle cx="143.2" cy="190.9" r="1.3" fill="#111"/>
<text x="150.90" y="191.80" font-size="5.37" text-anchor="start" font-weight="normal" fill="#1c1c1c" textLength="34.9" lengthAdjust="spacingAndGlyphs">RMG2-control:</text>
<text x="150.90" y="197.20" font-size="5.5" text-anchor="start" font-weight="normal" fill="#1c1c1c">Placebo</text>
<line x1="138.20" y1="203.70" x2="148.20" y2="203.70" stroke="#111" stroke-width="1.25" stroke-dasharray="3.2 2" stroke-linecap="butt"/>
<circle cx="143.2" cy="203.7" r="1.3" fill="#111"/>
<text x="150.90" y="204.60" font-size="5.37" text-anchor="start" font-weight="normal" fill="#1c1c1c" textLength="34.9" lengthAdjust="spacingAndGlyphs">RMG2-control:</text>
<text x="150.90" y="210.00" font-size="5.5" text-anchor="start" font-weight="normal" fill="#1c1c1c">RAD001</text>
<line x1="138.20" y1="217.00" x2="148.20" y2="217.00" stroke="#111" stroke-width="1.25" stroke-linecap="butt"/>
<circle cx="143.2" cy="217.0" r="1.3" fill="#111"/>
<text x="150.90" y="217.90" font-size="5.28" text-anchor="start" font-weight="normal" fill="#1c1c1c" textLength="39.6" lengthAdjust="spacingAndGlyphs">RMG2-RictorKD:</text>
<text x="150.90" y="223.30" font-size="5.5" text-anchor="start" font-weight="normal" fill="#1c1c1c">Placebo</text>
<line x1="138.20" y1="229.80" x2="148.20" y2="229.80" stroke="#111" stroke-width="1.25" stroke-dasharray="3.2 2" stroke-linecap="butt"/>
<circle cx="143.2" cy="229.8" r="1.3" fill="#111"/>
<text x="150.90" y="230.70" font-size="5.28" text-anchor="start" font-weight="normal" fill="#1c1c1c" textLength="39.6" lengthAdjust="spacingAndGlyphs">RMG2-RictorKD:</text>
<text x="150.90" y="236.10" font-size="5.5" text-anchor="start" font-weight="normal" fill="#1c1c1c">RAD001</text>
<line x1="34.60" y1="287.05" x2="34.60" y2="372.25" stroke="#a8a8a8" stroke-width="0.7" stroke-linecap="butt"/>
<line x1="34.60" y1="372.25" x2="126.50" y2="372.25" stroke="#a8a8a8" stroke-width="0.7" stroke-linecap="butt"/>
<line x1="32.60" y1="372.25" x2="34.60" y2="372.25" stroke="#a8a8a8" stroke-width="0.6" stroke-linecap="butt"/>
<text x="31.70" y="374.55" font-size="6.4" text-anchor="end" font-weight="normal" fill="#1c1c1c">0</text>
<line x1="32.60" y1="358.05" x2="34.60" y2="358.05" stroke="#a8a8a8" stroke-width="0.6" stroke-linecap="butt"/>
<text x="31.70" y="360.35" font-size="6.4" text-anchor="end" font-weight="normal" fill="#1c1c1c">5</text>
<line x1="32.60" y1="343.85" x2="34.60" y2="343.85" stroke="#a8a8a8" stroke-width="0.6" stroke-linecap="butt"/>
<text x="31.70" y="346.15" font-size="6.4" text-anchor="end" font-weight="normal" fill="#1c1c1c">10</text>
<line x1="32.60" y1="329.65" x2="34.60" y2="329.65" stroke="#a8a8a8" stroke-width="0.6" stroke-linecap="butt"/>
<text x="31.70" y="331.95" font-size="6.4" text-anchor="end" font-weight="normal" fill="#1c1c1c">15</text>
<line x1="32.60" y1="315.45" x2="34.60" y2="315.45" stroke="#a8a8a8" stroke-width="0.6" stroke-linecap="butt"/>
<text x="31.70" y="317.75" font-size="6.4" text-anchor="end" font-weight="normal" fill="#1c1c1c">20</text>
<line x1="32.60" y1="301.25" x2="34.60" y2="301.25" stroke="#a8a8a8" stroke-width="0.6" stroke-linecap="butt"/>
<text x="31.70" y="303.55" font-size="6.4" text-anchor="end" font-weight="normal" fill="#1c1c1c">25</text>
<line x1="32.60" y1="287.05" x2="34.60" y2="287.05" stroke="#a8a8a8" stroke-width="0.6" stroke-linecap="butt"/>
<text x="31.70" y="289.35" font-size="6.4" text-anchor="end" font-weight="normal" fill="#1c1c1c">30</text>
<line x1="34.60" y1="372.25" x2="34.60" y2="374.25" stroke="#a8a8a8" stroke-width="0.6" stroke-linecap="butt"/>
<text x="34.60" y="380.90" font-size="6.8" text-anchor="middle" font-weight="normal" fill="#1c1c1c">0</text>
<line x1="58.00" y1="372.25" x2="58.00" y2="374.25" stroke="#a8a8a8" stroke-width="0.6" stroke-linecap="butt"/>
<text x="58.00" y="380.90" font-size="6.8" text-anchor="middle" font-weight="normal" fill="#1c1c1c">1</text>
<line x1="80.50" y1="372.25" x2="80.50" y2="374.25" stroke="#a8a8a8" stroke-width="0.6" stroke-linecap="butt"/>
<text x="80.50" y="380.90" font-size="6.8" text-anchor="middle" font-weight="normal" fill="#1c1c1c">2</text>
<line x1="103.75" y1="372.25" x2="103.75" y2="374.25" stroke="#a8a8a8" stroke-width="0.6" stroke-linecap="butt"/>
<text x="103.75" y="380.90" font-size="6.8" text-anchor="middle" font-weight="normal" fill="#1c1c1c">3</text>
<line x1="126.50" y1="372.25" x2="126.50" y2="374.25" stroke="#a8a8a8" stroke-width="0.6" stroke-linecap="butt"/>
<text x="126.50" y="380.90" font-size="6.8" text-anchor="middle" font-weight="normal" fill="#1c1c1c">4</text>
<text x="41.25" y="294.00" font-size="7.31" text-anchor="start" font-weight="normal" fill="#1c1c1c" textLength="19.5" lengthAdjust="spacingAndGlyphs">HAC2</text>
<text x="55.00" y="392.80" font-size="6.49" text-anchor="start" font-weight="normal" fill="#1c1c1c" textLength="63.75" lengthAdjust="spacingAndGlyphs">Weeks after treatment</text>
<text x="-13.10" y="326.80" font-size="6.56" text-anchor="start" font-weight="normal" fill="#3c3c3c" transform="rotate(-90 18.8 326.8)" textLength="63.8" lengthAdjust="spacingAndGlyphs">Relative tumor growth</text>
<line x1="58.00" y1="346.69" x2="58.00" y2="358.05" stroke="#6a6a6a" stroke-width="0.6" stroke-dasharray="1.2 0.7" stroke-linecap="butt"/>
<line x1="57.00" y1="346.69" x2="59.00" y2="346.69" stroke="#6a6a6a" stroke-width="0.5" stroke-linecap="butt"/>
<line x1="57.00" y1="358.05" x2="59.00" y2="358.05" stroke="#6a6a6a" stroke-width="0.5" stroke-linecap="butt"/>
<line x1="80.50" y1="312.04" x2="80.50" y2="330.22" stroke="#6a6a6a" stroke-width="0.6" stroke-dasharray="1.2 0.7" stroke-linecap="butt"/>
<line x1="79.50" y1="312.04" x2="81.50" y2="312.04" stroke="#6a6a6a" stroke-width="0.5" stroke-linecap="butt"/>
<line x1="79.50" y1="330.22" x2="81.50" y2="330.22" stroke="#6a6a6a" stroke-width="0.5" stroke-linecap="butt"/>
<line x1="103.75" y1="299.55" x2="103.75" y2="318.29" stroke="#6a6a6a" stroke-width="0.6" stroke-dasharray="1.2 0.7" stroke-linecap="butt"/>
<line x1="102.75" y1="299.55" x2="104.75" y2="299.55" stroke="#6a6a6a" stroke-width="0.5" stroke-linecap="butt"/>
<line x1="102.75" y1="318.29" x2="104.75" y2="318.29" stroke="#6a6a6a" stroke-width="0.5" stroke-linecap="butt"/>
<line x1="58.00" y1="352.37" x2="58.00" y2="360.89" stroke="#6a6a6a" stroke-width="0.6" stroke-dasharray="1.2 0.7" stroke-linecap="butt"/>
<line x1="57.00" y1="352.37" x2="59.00" y2="352.37" stroke="#6a6a6a" stroke-width="0.5" stroke-linecap="butt"/>
<line x1="57.00" y1="360.89" x2="59.00" y2="360.89" stroke="#6a6a6a" stroke-width="0.5" stroke-linecap="butt"/>
<line x1="80.50" y1="346.41" x2="80.50" y2="356.63" stroke="#6a6a6a" stroke-width="0.6" stroke-dasharray="1.2 0.7" stroke-linecap="butt"/>
<line x1="79.50" y1="346.41" x2="81.50" y2="346.41" stroke="#6a6a6a" stroke-width="0.5" stroke-linecap="butt"/>
<line x1="79.50" y1="356.63" x2="81.50" y2="356.63" stroke="#6a6a6a" stroke-width="0.5" stroke-linecap="butt"/>
<line x1="103.75" y1="338.45" x2="103.75" y2="350.95" stroke="#6a6a6a" stroke-width="0.6" stroke-dasharray="1.2 0.7" stroke-linecap="butt"/>
<line x1="102.75" y1="338.45" x2="104.75" y2="338.45" stroke="#6a6a6a" stroke-width="0.5" stroke-linecap="butt"/>
<line x1="102.75" y1="350.95" x2="104.75" y2="350.95" stroke="#6a6a6a" stroke-width="0.5" stroke-linecap="butt"/>
<line x1="126.50" y1="335.33" x2="126.50" y2="347.83" stroke="#6a6a6a" stroke-width="0.6" stroke-dasharray="1.2 0.7" stroke-linecap="butt"/>
<line x1="125.50" y1="335.33" x2="127.50" y2="335.33" stroke="#6a6a6a" stroke-width="0.5" stroke-linecap="butt"/>
<line x1="125.50" y1="347.83" x2="127.50" y2="347.83" stroke="#6a6a6a" stroke-width="0.5" stroke-linecap="butt"/>
<line x1="58.00" y1="360.89" x2="58.00" y2="367.71" stroke="#6a6a6a" stroke-width="0.6" stroke-dasharray="1.2 0.7" stroke-linecap="butt"/>
<line x1="57.00" y1="360.89" x2="59.00" y2="360.89" stroke="#6a6a6a" stroke-width="0.5" stroke-linecap="butt"/>
<line x1="57.00" y1="367.71" x2="59.00" y2="367.71" stroke="#6a6a6a" stroke-width="0.5" stroke-linecap="butt"/>
<line x1="80.50" y1="356.35" x2="80.50" y2="364.87" stroke="#6a6a6a" stroke-width="0.6" stroke-dasharray="1.2 0.7" stroke-linecap="butt"/>
<line x1="79.50" y1="356.35" x2="81.50" y2="356.35" stroke="#6a6a6a" stroke-width="0.5" stroke-linecap="butt"/>
<line x1="79.50" y1="364.87" x2="81.50" y2="364.87" stroke="#6a6a6a" stroke-width="0.5" stroke-linecap="butt"/>
<line x1="103.75" y1="348.96" x2="103.75" y2="360.32" stroke="#6a6a6a" stroke-width="0.6" stroke-dasharray="1.2 0.7" stroke-linecap="butt"/>
<line x1="102.75" y1="348.96" x2="104.75" y2="348.96" stroke="#6a6a6a" stroke-width="0.5" stroke-linecap="butt"/>
<line x1="102.75" y1="360.32" x2="104.75" y2="360.32" stroke="#6a6a6a" stroke-width="0.5" stroke-linecap="butt"/>
<line x1="126.50" y1="343.85" x2="126.50" y2="356.35" stroke="#6a6a6a" stroke-width="0.6" stroke-dasharray="1.2 0.7" stroke-linecap="butt"/>
<line x1="125.50" y1="343.85" x2="127.50" y2="343.85" stroke="#6a6a6a" stroke-width="0.5" stroke-linecap="butt"/>
<line x1="125.50" y1="356.35" x2="127.50" y2="356.35" stroke="#6a6a6a" stroke-width="0.5" stroke-linecap="butt"/>
<line x1="58.00" y1="366.00" x2="58.00" y2="370.55" stroke="#6a6a6a" stroke-width="0.6" stroke-dasharray="1.2 0.7" stroke-linecap="butt"/>
<line x1="57.00" y1="366.00" x2="59.00" y2="366.00" stroke="#6a6a6a" stroke-width="0.5" stroke-linecap="butt"/>
<line x1="57.00" y1="370.55" x2="59.00" y2="370.55" stroke="#6a6a6a" stroke-width="0.5" stroke-linecap="butt"/>
<line x1="80.50" y1="364.87" x2="80.50" y2="370.55" stroke="#6a6a6a" stroke-width="0.6" stroke-dasharray="1.2 0.7" stroke-linecap="butt"/>
<line x1="79.50" y1="364.87" x2="81.50" y2="364.87" stroke="#6a6a6a" stroke-width="0.5" stroke-linecap="butt"/>
<line x1="79.50" y1="370.55" x2="81.50" y2="370.55" stroke="#6a6a6a" stroke-width="0.5" stroke-linecap="butt"/>
<line x1="103.75" y1="362.03" x2="103.75" y2="369.41" stroke="#6a6a6a" stroke-width="0.6" stroke-dasharray="1.2 0.7" stroke-linecap="butt"/>
<line x1="102.75" y1="362.03" x2="104.75" y2="362.03" stroke="#6a6a6a" stroke-width="0.5" stroke-linecap="butt"/>
<line x1="102.75" y1="369.41" x2="104.75" y2="369.41" stroke="#6a6a6a" stroke-width="0.5" stroke-linecap="butt"/>
<line x1="126.50" y1="360.04" x2="126.50" y2="368.56" stroke="#6a6a6a" stroke-width="0.6" stroke-dasharray="1.2 0.7" stroke-linecap="butt"/>
<line x1="125.50" y1="360.04" x2="127.50" y2="360.04" stroke="#6a6a6a" stroke-width="0.5" stroke-linecap="butt"/>
<line x1="125.50" y1="368.56" x2="127.50" y2="368.56" stroke="#6a6a6a" stroke-width="0.5" stroke-linecap="butt"/>
<polyline points="34.60,369.41 58.00,352.37 80.50,321.13 103.75,308.92" fill="none" stroke="#111" stroke-width="1.1" stroke-linejoin="round"/>
<circle cx="34.60" cy="369.41" r="1.3" fill="#111"/>
<circle cx="58.00" cy="352.37" r="1.3" fill="#111"/>
<circle cx="80.50" cy="321.13" r="1.3" fill="#111"/>
<circle cx="103.75" cy="308.92" r="1.3" fill="#111"/>
<polyline points="34.60,369.41 58.00,356.63 80.50,351.52 103.75,344.70 126.50,341.58" fill="none" stroke="#111" stroke-width="1.1" stroke-dasharray="1.6 1.2" stroke-linejoin="round"/>
<circle cx="34.60" cy="369.41" r="1.3" fill="#111"/>
<circle cx="58.00" cy="356.63" r="1.3" fill="#111"/>
<circle cx="80.50" cy="351.52" r="1.3" fill="#111"/>
<circle cx="103.75" cy="344.70" r="1.3" fill="#111"/>
<circle cx="126.50" cy="341.58" r="1.3" fill="#111"/>
<polyline points="34.60,369.41 58.00,364.30 80.50,360.61 103.75,354.64 126.50,350.10" fill="none" stroke="#111" stroke-width="1.1" stroke-linejoin="round"/>
<circle cx="34.60" cy="369.41" r="1.3" fill="#111"/>
<circle cx="58.00" cy="364.30" r="1.3" fill="#111"/>
<circle cx="80.50" cy="360.61" r="1.3" fill="#111"/>
<circle cx="103.75" cy="354.64" r="1.3" fill="#111"/>
<circle cx="126.50" cy="350.10" r="1.3" fill="#111"/>
<polyline points="34.60,369.41 58.00,368.27 80.50,367.71 103.75,365.72 126.50,364.30" fill="none" stroke="#111" stroke-width="1.1" stroke-dasharray="1.6 1.2" stroke-linejoin="round"/>
<circle cx="34.60" cy="369.41" r="1.3" fill="#111"/>
<circle cx="58.00" cy="368.27" r="1.3" fill="#111"/>
<circle cx="80.50" cy="367.71" r="1.3" fill="#111"/>
<circle cx="103.75" cy="365.72" r="1.3" fill="#111"/>
<circle cx="126.50" cy="364.30" r="1.3" fill="#111"/>
<circle cx="84.25" cy="316.25" r="1.2" fill="#111"/>
<circle cx="108.7" cy="306" r="1.2" fill="#111"/>
<circle cx="108.8" cy="369.8" r="1.2" fill="#111"/><circle cx="111.8" cy="369.8" r="1.2" fill="#111"/>
<circle cx="130.9" cy="369.6" r="1.2" fill="#111"/><circle cx="133.9" cy="369.6" r="1.2" fill="#111"/>
<line x1="133.20" y1="315.30" x2="144.20" y2="315.30" stroke="#111" stroke-width="1.1" stroke-linecap="butt"/>
<circle cx="138.7" cy="315.3" r="1.3" fill="#111"/>
<text x="146.70" y="316.20" font-size="5.41" text-anchor="start" font-weight="normal" fill="#1c1c1c" textLength="34.0" lengthAdjust="spacingAndGlyphs">HAC2-control:</text>
<text x="146.70" y="321.45" font-size="5.5" text-anchor="start" font-weight="normal" fill="#1c1c1c">Placebo</text>
<line x1="133.20" y1="329.40" x2="144.20" y2="329.40" stroke="#111" stroke-width="1.1" stroke-dasharray="1.6 1.2" stroke-linecap="butt"/>
<circle cx="138.7" cy="329.4" r="1.3" fill="#111"/>
<text x="146.70" y="330.30" font-size="5.41" text-anchor="start" font-weight="normal" fill="#1c1c1c" textLength="34.0" lengthAdjust="spacingAndGlyphs">HAC2-control:</text>
<text x="146.70" y="335.55" font-size="5.5" text-anchor="start" font-weight="normal" fill="#1c1c1c">RAD001</text>
<line x1="133.20" y1="343.30" x2="144.20" y2="343.30" stroke="#111" stroke-width="1.1" stroke-linecap="butt"/>
<circle cx="138.7" cy="343.3" r="1.3" fill="#111"/>
<text x="146.70" y="344.20" font-size="5.3" text-anchor="start" font-weight="normal" fill="#1c1c1c" textLength="38.6" lengthAdjust="spacingAndGlyphs">HAC2-RictorKD:</text>
<text x="146.70" y="349.45" font-size="5.5" text-anchor="start" font-weight="normal" fill="#1c1c1c">Placebo</text>
<line x1="133.20" y1="357.20" x2="144.20" y2="357.20" stroke="#111" stroke-width="1.1" stroke-dasharray="1.6 1.2" stroke-linecap="butt"/>
<circle cx="138.7" cy="357.2" r="1.3" fill="#111"/>
<text x="146.70" y="358.10" font-size="5.3" text-anchor="start" font-weight="normal" fill="#1c1c1c" textLength="38.6" lengthAdjust="spacingAndGlyphs">HAC2-RictorKD:</text>
<text x="146.70" y="363.35" font-size="5.5" text-anchor="start" font-weight="normal" fill="#1c1c1c">RAD001</text>
<line x1="218.60" y1="225.21" x2="218.60" y2="323.25" stroke="#a8a8a8" stroke-width="0.7" stroke-linecap="butt"/>
<line x1="218.60" y1="323.25" x2="340.00" y2="323.25" stroke="#a8a8a8" stroke-width="0.7" stroke-linecap="butt"/>
<line x1="216.60" y1="323.25" x2="218.60" y2="323.25" stroke="#a8a8a8" stroke-width="0.6" stroke-linecap="butt"/>
<text x="214.40" y="325.55" font-size="6.6" text-anchor="end" font-weight="normal" fill="#1c1c1c">0</text>
<line x1="216.60" y1="306.91" x2="218.60" y2="306.91" stroke="#a8a8a8" stroke-width="0.6" stroke-linecap="butt"/>
<text x="214.40" y="309.21" font-size="6.6" text-anchor="end" font-weight="normal" fill="#1c1c1c">0.2</text>
<line x1="216.60" y1="290.57" x2="218.60" y2="290.57" stroke="#a8a8a8" stroke-width="0.6" stroke-linecap="butt"/>
<text x="214.40" y="292.87" font-size="6.6" text-anchor="end" font-weight="normal" fill="#1c1c1c">0.4</text>
<line x1="216.60" y1="274.23" x2="218.60" y2="274.23" stroke="#a8a8a8" stroke-width="0.6" stroke-linecap="butt"/>
<text x="214.40" y="276.53" font-size="6.6" text-anchor="end" font-weight="normal" fill="#1c1c1c">0.6</text>
<line x1="216.60" y1="257.89" x2="218.60" y2="257.89" stroke="#a8a8a8" stroke-width="0.6" stroke-linecap="butt"/>
<text x="214.40" y="260.19" font-size="6.6" text-anchor="end" font-weight="normal" fill="#1c1c1c">0.8</text>
<line x1="216.60" y1="241.55" x2="218.60" y2="241.55" stroke="#a8a8a8" stroke-width="0.6" stroke-linecap="butt"/>
<text x="214.40" y="243.85" font-size="6.6" text-anchor="end" font-weight="normal" fill="#1c1c1c">1</text>
<line x1="216.60" y1="225.21" x2="218.60" y2="225.21" stroke="#a8a8a8" stroke-width="0.6" stroke-linecap="butt"/>
<text x="214.40" y="227.51" font-size="6.6" text-anchor="end" font-weight="normal" fill="#1c1c1c">1.2</text>
<line x1="218.60" y1="323.25" x2="218.60" y2="325.05" stroke="#a8a8a8" stroke-width="0.6" stroke-linecap="butt"/>
<text x="218.60" y="334.10" font-size="6.6" text-anchor="middle" font-weight="normal" fill="#1c1c1c">0</text>
<line x1="242.50" y1="323.25" x2="242.50" y2="325.05" stroke="#a8a8a8" stroke-width="0.6" stroke-linecap="butt"/>
<text x="242.50" y="334.10" font-size="6.6" text-anchor="middle" font-weight="normal" fill="#1c1c1c">1</text>
<line x1="267.00" y1="323.25" x2="267.00" y2="325.05" stroke="#a8a8a8" stroke-width="0.6" stroke-linecap="butt"/>
<text x="267.00" y="334.10" font-size="6.6" text-anchor="middle" font-weight="normal" fill="#1c1c1c">10</text>
<line x1="291.25" y1="323.25" x2="291.25" y2="325.05" stroke="#a8a8a8" stroke-width="0.6" stroke-linecap="butt"/>
<text x="291.25" y="334.10" font-size="6.6" text-anchor="middle" font-weight="normal" fill="#1c1c1c">100</text>
<line x1="315.75" y1="323.25" x2="315.75" y2="325.05" stroke="#a8a8a8" stroke-width="0.6" stroke-linecap="butt"/>
<text x="315.75" y="334.10" font-size="6.6" text-anchor="middle" font-weight="normal" fill="#1c1c1c">300</text>
<line x1="340.00" y1="323.25" x2="340.00" y2="325.05" stroke="#a8a8a8" stroke-width="0.6" stroke-linecap="butt"/>
<text x="340.00" y="334.10" font-size="6.6" text-anchor="middle" font-weight="normal" fill="#1c1c1c">1,000</text>
<text x="270.50" y="213.80" font-size="7.39" text-anchor="start" font-weight="normal" fill="#1c1c1c" textLength="34.5" lengthAdjust="spacingAndGlyphs">RMG2-RR</text>
<text x="218.10" y="343.55" font-size="6.54" text-anchor="start" font-weight="normal" fill="#1c1c1c" textLength="125.8" lengthAdjust="spacingAndGlyphs">RAD001/ AZD8055 concentrations (nmol/L)</text>
<text x="158.15" y="276.70" font-size="6.51" text-anchor="start" font-weight="normal" fill="#3c3c3c" transform="rotate(-90 200.8 276.7)" textLength="85.3" lengthAdjust="spacingAndGlyphs">Viability based on MTS assay</text>
<line x1="218.60" y1="239.92" x2="218.60" y2="243.18" stroke="#555" stroke-width="0.6" stroke-linecap="butt"/>
<line x1="217.30" y1="239.92" x2="219.90" y2="239.92" stroke="#555" stroke-width="0.55" stroke-linecap="butt"/>
<line x1="217.30" y1="243.18" x2="219.90" y2="243.18" stroke="#555" stroke-width="0.55" stroke-linecap="butt"/>
<line x1="242.50" y1="240.32" x2="242.50" y2="245.23" stroke="#555" stroke-width="0.6" stroke-linecap="butt"/>
<line x1="241.20" y1="240.32" x2="243.80" y2="240.32" stroke="#555" stroke-width="0.55" stroke-linecap="butt"/>
<line x1="241.20" y1="245.23" x2="243.80" y2="245.23" stroke="#555" stroke-width="0.55" stroke-linecap="butt"/>
<line x1="267.00" y1="237.46" x2="267.00" y2="242.37" stroke="#555" stroke-width="0.6" stroke-linecap="butt"/>
<line x1="265.70" y1="237.46" x2="268.30" y2="237.46" stroke="#555" stroke-width="0.55" stroke-linecap="butt"/>
<line x1="265.70" y1="242.37" x2="268.30" y2="242.37" stroke="#555" stroke-width="0.55" stroke-linecap="butt"/>
<line x1="291.25" y1="236.65" x2="291.25" y2="244.82" stroke="#555" stroke-width="0.6" stroke-linecap="butt"/>
<line x1="289.95" y1="236.65" x2="292.55" y2="236.65" stroke="#555" stroke-width="0.55" stroke-linecap="butt"/>
<line x1="289.95" y1="244.82" x2="292.55" y2="244.82" stroke="#555" stroke-width="0.55" stroke-linecap="butt"/>
<line x1="315.75" y1="237.06" x2="315.75" y2="243.59" stroke="#555" stroke-width="0.6" stroke-linecap="butt"/>
<line x1="314.45" y1="237.06" x2="317.05" y2="237.06" stroke="#555" stroke-width="0.55" stroke-linecap="butt"/>
<line x1="314.45" y1="243.59" x2="317.05" y2="243.59" stroke="#555" stroke-width="0.55" stroke-linecap="butt"/>
<line x1="340.00" y1="236.24" x2="340.00" y2="241.14" stroke="#555" stroke-width="0.6" stroke-linecap="butt"/>
<line x1="338.70" y1="236.24" x2="341.30" y2="236.24" stroke="#555" stroke-width="0.55" stroke-linecap="butt"/>
<line x1="338.70" y1="241.14" x2="341.30" y2="241.14" stroke="#555" stroke-width="0.55" stroke-linecap="butt"/>
<line x1="218.60" y1="239.92" x2="218.60" y2="243.18" stroke="#555" stroke-width="0.6" stroke-linecap="butt"/>
<line x1="217.30" y1="239.92" x2="219.90" y2="239.92" stroke="#555" stroke-width="0.55" stroke-linecap="butt"/>
<line x1="217.30" y1="243.18" x2="219.90" y2="243.18" stroke="#555" stroke-width="0.55" stroke-linecap="butt"/>
<line x1="242.50" y1="243.18" x2="242.50" y2="248.09" stroke="#555" stroke-width="0.6" stroke-linecap="butt"/>
<line x1="241.20" y1="243.18" x2="243.80" y2="243.18" stroke="#555" stroke-width="0.55" stroke-linecap="butt"/>
<line x1="241.20" y1="248.09" x2="243.80" y2="248.09" stroke="#555" stroke-width="0.55" stroke-linecap="butt"/>
<line x1="267.00" y1="245.39" x2="267.00" y2="248.66" stroke="#555" stroke-width="0.6" stroke-linecap="butt"/>
<line x1="265.70" y1="245.39" x2="268.30" y2="245.39" stroke="#555" stroke-width="0.55" stroke-linecap="butt"/>
<line x1="265.70" y1="248.66" x2="268.30" y2="248.66" stroke="#555" stroke-width="0.55" stroke-linecap="butt"/>
<line x1="291.25" y1="248.09" x2="291.25" y2="259.52" stroke="#555" stroke-width="0.6" stroke-linecap="butt"/>
<line x1="289.95" y1="248.09" x2="292.55" y2="248.09" stroke="#555" stroke-width="0.55" stroke-linecap="butt"/>
<line x1="289.95" y1="259.52" x2="292.55" y2="259.52" stroke="#555" stroke-width="0.55" stroke-linecap="butt"/>
<line x1="315.75" y1="259.52" x2="315.75" y2="272.60" stroke="#555" stroke-width="0.6" stroke-linecap="butt"/>
<line x1="314.45" y1="259.52" x2="317.05" y2="259.52" stroke="#555" stroke-width="0.55" stroke-linecap="butt"/>
<line x1="314.45" y1="272.60" x2="317.05" y2="272.60" stroke="#555" stroke-width="0.55" stroke-linecap="butt"/>
<line x1="340.00" y1="279.54" x2="340.00" y2="284.44" stroke="#555" stroke-width="0.6" stroke-linecap="butt"/>
<line x1="338.70" y1="279.54" x2="341.30" y2="279.54" stroke="#555" stroke-width="0.55" stroke-linecap="butt"/>
<line x1="338.70" y1="284.44" x2="341.30" y2="284.44" stroke="#555" stroke-width="0.55" stroke-linecap="butt"/>
<polyline points="218.60,241.55 242.50,242.78 267.00,239.92 291.25,240.73 315.75,240.32 340.00,238.69" fill="none" stroke="#111" stroke-width="1.35" stroke-dasharray="3 1.6" stroke-linejoin="round"/>
<path d="M218.60 241.55 C224.18 242.50 231.21 244.36 242.50 245.63 C253.79 246.91 255.62 245.12 267.00 247.02 C278.38 248.93 279.88 249.36 291.25 253.81 C302.62 258.25 304.38 259.48 315.75 266.06 C327.12 272.64 334.34 278.27 340.00 281.99" fill="none" stroke="#111" stroke-width="1.4"/>
<circle cx="265.25" cy="254.5" r="1.2" fill="#111"/><circle cx="268.25" cy="254.5" r="1.2" fill="#111"/>
<circle cx="290.25" cy="267.5" r="1.2" fill="#111"/><circle cx="293.25" cy="267.5" r="1.2" fill="#111"/>
<circle cx="315.0" cy="280" r="1.2" fill="#111"/><circle cx="318.0" cy="280" r="1.2" fill="#111"/>
<circle cx="339.75" cy="290" r="1.2" fill="#111"/><circle cx="342.75" cy="290" r="1.2" fill="#111"/>
<line x1="240.00" y1="297.50" x2="254.50" y2="297.50" stroke="#111" stroke-width="1.35" stroke-dasharray="2.6 1.4" stroke-linecap="butt"/>
<text x="256.25" y="299.50" font-size="5.7" text-anchor="start" font-weight="normal" fill="#1c1c1c">RAD001</text>
<line x1="240.00" y1="307.50" x2="254.50" y2="307.50" stroke="#111" stroke-width="1.4" stroke-linecap="butt"/>
<text x="256.25" y="309.50" font-size="5.59" text-anchor="start" font-weight="normal" fill="#1c1c1c" textLength="23.6" lengthAdjust="spacingAndGlyphs">AZD8055</text>
<line x1="380.60" y1="221.26" x2="380.60" y2="321.30" stroke="#a8a8a8" stroke-width="0.7" stroke-linecap="butt"/>
<line x1="380.60" y1="321.30" x2="497.20" y2="321.30" stroke="#a8a8a8" stroke-width="0.7" stroke-linecap="butt"/>
<line x1="378.60" y1="320.50" x2="380.60" y2="320.50" stroke="#a8a8a8" stroke-width="0.6" stroke-linecap="butt"/>
<text x="376.80" y="322.80" font-size="6.6" text-anchor="end" font-weight="normal" fill="#1c1c1c">0</text>
<line x1="378.60" y1="303.96" x2="380.60" y2="303.96" stroke="#a8a8a8" stroke-width="0.6" stroke-linecap="butt"/>
<text x="376.80" y="306.26" font-size="6.6" text-anchor="end" font-weight="normal" fill="#1c1c1c">0.2</text>
<line x1="378.60" y1="287.42" x2="380.60" y2="287.42" stroke="#a8a8a8" stroke-width="0.6" stroke-linecap="butt"/>
<text x="376.80" y="289.72" font-size="6.6" text-anchor="end" font-weight="normal" fill="#1c1c1c">0.4</text>
<line x1="378.60" y1="270.88" x2="380.60" y2="270.88" stroke="#a8a8a8" stroke-width="0.6" stroke-linecap="butt"/>
<text x="376.80" y="273.18" font-size="6.6" text-anchor="end" font-weight="normal" fill="#1c1c1c">0.6</text>
<line x1="378.60" y1="254.34" x2="380.60" y2="254.34" stroke="#a8a8a8" stroke-width="0.6" stroke-linecap="butt"/>
<text x="376.80" y="256.64" font-size="6.6" text-anchor="end" font-weight="normal" fill="#1c1c1c">0.8</text>
<line x1="378.60" y1="237.80" x2="380.60" y2="237.80" stroke="#a8a8a8" stroke-width="0.6" stroke-linecap="butt"/>
<text x="376.80" y="240.10" font-size="6.6" text-anchor="end" font-weight="normal" fill="#1c1c1c">1</text>
<line x1="378.60" y1="221.26" x2="380.60" y2="221.26" stroke="#a8a8a8" stroke-width="0.6" stroke-linecap="butt"/>
<text x="376.80" y="223.56" font-size="6.6" text-anchor="end" font-weight="normal" fill="#1c1c1c">1.2</text>
<line x1="380.60" y1="321.30" x2="380.60" y2="323.10" stroke="#a8a8a8" stroke-width="0.6" stroke-linecap="butt"/>
<text x="380.60" y="330.15" font-size="6.6" text-anchor="middle" font-weight="normal" fill="#1c1c1c">0</text>
<line x1="404.25" y1="321.30" x2="404.25" y2="323.10" stroke="#a8a8a8" stroke-width="0.6" stroke-linecap="butt"/>
<text x="404.25" y="330.15" font-size="6.6" text-anchor="middle" font-weight="normal" fill="#1c1c1c">1</text>
<line x1="427.50" y1="321.30" x2="427.50" y2="323.10" stroke="#a8a8a8" stroke-width="0.6" stroke-linecap="butt"/>
<text x="427.50" y="330.15" font-size="6.6" text-anchor="middle" font-weight="normal" fill="#1c1c1c">10</text>
<line x1="450.40" y1="321.30" x2="450.40" y2="323.10" stroke="#a8a8a8" stroke-width="0.6" stroke-linecap="butt"/>
<text x="450.40" y="330.15" font-size="6.6" text-anchor="middle" font-weight="normal" fill="#1c1c1c">100</text>
<line x1="474.25" y1="321.30" x2="474.25" y2="323.10" stroke="#a8a8a8" stroke-width="0.6" stroke-linecap="butt"/>
<text x="474.25" y="330.15" font-size="6.6" text-anchor="middle" font-weight="normal" fill="#1c1c1c">300</text>
<line x1="497.20" y1="321.30" x2="497.20" y2="323.10" stroke="#a8a8a8" stroke-width="0.6" stroke-linecap="butt"/>
<text x="497.20" y="330.15" font-size="6.6" text-anchor="middle" font-weight="normal" fill="#1c1c1c">1,000</text>
<text x="425.02" y="214.50" font-size="7.59" text-anchor="start" font-weight="normal" fill="#1c1c1c" textLength="33.75" lengthAdjust="spacingAndGlyphs">HAC2-RR</text>
<text x="377.50" y="344.60" font-size="6.56" text-anchor="start" font-weight="normal" fill="#1c1c1c" textLength="126.25" lengthAdjust="spacingAndGlyphs">RAD001/ AZD8055 concentrations (nmol/L)</text>
<text x="319.30" y="274.00" font-size="6.63" text-anchor="start" font-weight="normal" fill="#3c3c3c" transform="rotate(-90 362.7 274)" textLength="86.8" lengthAdjust="spacingAndGlyphs">Viability based on MTS assay</text>
<line x1="380.60" y1="235.32" x2="380.60" y2="240.28" stroke="#555" stroke-width="0.6" stroke-linecap="butt"/>
<line x1="379.30" y1="235.32" x2="381.90" y2="235.32" stroke="#555" stroke-width="0.55" stroke-linecap="butt"/>
<line x1="379.30" y1="240.28" x2="381.90" y2="240.28" stroke="#555" stroke-width="0.55" stroke-linecap="butt"/>
<line x1="404.25" y1="230.36" x2="404.25" y2="241.94" stroke="#555" stroke-width="0.6" stroke-linecap="butt"/>
<line x1="402.95" y1="230.36" x2="405.55" y2="230.36" stroke="#555" stroke-width="0.55" stroke-linecap="butt"/>
<line x1="402.95" y1="241.94" x2="405.55" y2="241.94" stroke="#555" stroke-width="0.55" stroke-linecap="butt"/>
<line x1="427.50" y1="228.70" x2="427.50" y2="235.32" stroke="#555" stroke-width="0.6" stroke-linecap="butt"/>
<line x1="426.20" y1="228.70" x2="428.80" y2="228.70" stroke="#555" stroke-width="0.55" stroke-linecap="butt"/>
<line x1="426.20" y1="235.32" x2="428.80" y2="235.32" stroke="#555" stroke-width="0.55" stroke-linecap="butt"/>
<line x1="450.40" y1="233.00" x2="450.40" y2="242.93" stroke="#555" stroke-width="0.6" stroke-linecap="butt"/>
<line x1="449.10" y1="233.00" x2="451.70" y2="233.00" stroke="#555" stroke-width="0.55" stroke-linecap="butt"/>
<line x1="449.10" y1="242.93" x2="451.70" y2="242.93" stroke="#555" stroke-width="0.55" stroke-linecap="butt"/>
<line x1="474.25" y1="235.48" x2="474.25" y2="242.10" stroke="#555" stroke-width="0.6" stroke-linecap="butt"/>
<line x1="472.95" y1="235.48" x2="475.55" y2="235.48" stroke="#555" stroke-width="0.55" stroke-linecap="butt"/>
<line x1="472.95" y1="242.10" x2="475.55" y2="242.10" stroke="#555" stroke-width="0.55" stroke-linecap="butt"/>
<line x1="497.20" y1="234.74" x2="497.20" y2="246.32" stroke="#555" stroke-width="0.6" stroke-linecap="butt"/>
<line x1="495.90" y1="234.74" x2="498.50" y2="234.74" stroke="#555" stroke-width="0.55" stroke-linecap="butt"/>
<line x1="495.90" y1="246.32" x2="498.50" y2="246.32" stroke="#555" stroke-width="0.55" stroke-linecap="butt"/>
<line x1="380.60" y1="236.15" x2="380.60" y2="239.45" stroke="#555" stroke-width="0.6" stroke-linecap="butt"/>
<line x1="379.30" y1="236.15" x2="381.90" y2="236.15" stroke="#555" stroke-width="0.55" stroke-linecap="butt"/>
<line x1="379.30" y1="239.45" x2="381.90" y2="239.45" stroke="#555" stroke-width="0.55" stroke-linecap="butt"/>
<line x1="404.25" y1="234.91" x2="404.25" y2="243.18" stroke="#555" stroke-width="0.6" stroke-linecap="butt"/>
<line x1="402.95" y1="234.91" x2="405.55" y2="234.91" stroke="#555" stroke-width="0.55" stroke-linecap="butt"/>
<line x1="402.95" y1="243.18" x2="405.55" y2="243.18" stroke="#555" stroke-width="0.55" stroke-linecap="butt"/>
<line x1="427.50" y1="247.23" x2="427.50" y2="253.84" stroke="#555" stroke-width="0.6" stroke-linecap="butt"/>
<line x1="426.20" y1="247.23" x2="428.80" y2="247.23" stroke="#555" stroke-width="0.55" stroke-linecap="butt"/>
<line x1="426.20" y1="253.84" x2="428.80" y2="253.84" stroke="#555" stroke-width="0.55" stroke-linecap="butt"/>
<line x1="450.40" y1="264.43" x2="450.40" y2="267.74" stroke="#555" stroke-width="0.6" stroke-linecap="butt"/>
<line x1="449.10" y1="264.43" x2="451.70" y2="264.43" stroke="#555" stroke-width="0.55" stroke-linecap="butt"/>
<line x1="449.10" y1="267.74" x2="451.70" y2="267.74" stroke="#555" stroke-width="0.55" stroke-linecap="butt"/>
<line x1="474.25" y1="262.44" x2="474.25" y2="267.41" stroke="#555" stroke-width="0.6" stroke-linecap="butt"/>
<line x1="472.95" y1="262.44" x2="475.55" y2="262.44" stroke="#555" stroke-width="0.55" stroke-linecap="butt"/>
<line x1="472.95" y1="267.41" x2="475.55" y2="267.41" stroke="#555" stroke-width="0.55" stroke-linecap="butt"/>
<line x1="497.20" y1="272.53" x2="497.20" y2="277.50" stroke="#555" stroke-width="0.6" stroke-linecap="butt"/>
<line x1="495.90" y1="272.53" x2="498.50" y2="272.53" stroke="#555" stroke-width="0.55" stroke-linecap="butt"/>
<line x1="495.90" y1="277.50" x2="498.50" y2="277.50" stroke="#555" stroke-width="0.55" stroke-linecap="butt"/>
<polyline points="380.60,237.80 404.25,236.15 427.50,232.01 450.40,237.97 474.25,238.79 497.20,240.53" fill="none" stroke="#111" stroke-width="1.35" stroke-dasharray="3 1.6" stroke-linejoin="round"/>
<polyline points="380.60,237.80 404.25,239.04 427.50,250.54 450.40,266.08 474.25,264.93 497.20,275.01" fill="none" stroke="#111" stroke-width="1.4" stroke-linejoin="round"/>
<circle cx="425.5" cy="259.5" r="1.2" fill="#111"/><circle cx="428.5" cy="259.5" r="1.2" fill="#111"/>
<circle cx="450.25" cy="275.5" r="1.2" fill="#111"/><circle cx="453.25" cy="275.5" r="1.2" fill="#111"/>
<circle cx="474.25" cy="273.25" r="1.2" fill="#111"/><circle cx="477.25" cy="273.25" r="1.2" fill="#111"/>
<circle cx="495.25" cy="285.75" r="1.2" fill="#111"/><circle cx="498.25" cy="285.75" r="1.2" fill="#111"/>
<line x1="401.25" y1="294.80" x2="415.00" y2="294.80" stroke="#111" stroke-width="1.35" stroke-dasharray="2.6 1.4" stroke-linecap="butt"/>
<text x="416.25" y="296.80" font-size="5.9" text-anchor="start" font-weight="normal" fill="#1c1c1c">RAD001</text>
<line x1="401.25" y1="304.25" x2="415.00" y2="304.25" stroke="#111" stroke-width="1.4" stroke-linecap="butt"/>
<text x="416.25" y="306.25" font-size="5.87" text-anchor="start" font-weight="normal" fill="#1c1c1c" textLength="24.8" lengthAdjust="spacingAndGlyphs">AZD8055</text>
</g>
<path d="M0.45 408 V0.45 H519.5" fill="none" stroke="#5c5c5c" stroke-width="0.9"/>
<line x1="0" y1="407.4" x2="520" y2="407.4" stroke="#5c5c5c" stroke-width="1.2"/>
<line x1="519.5" y1="0" x2="519.5" y2="408" stroke="#5c5c5c" stroke-width="1.0"/>
</svg>
</body></html>
